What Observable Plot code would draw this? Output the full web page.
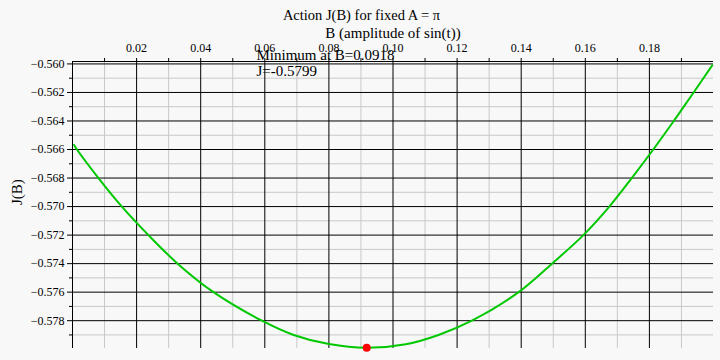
<!DOCTYPE html>
<html>
<head>
<meta charset="utf-8">
<script src="https://cdn.jsdelivr.net/npm/d3@7"></script>
<script src="https://cdn.jsdelivr.net/npm/@observablehq/plot@0.6"></script>
<style>
  html, body { margin: 0; padding: 0; background: #f8f8f8; }
  #chart svg { display: block; }
</style>
</head>
<body>
<div id="chart"></div>
<script>
// Curve samples
const bValues = [0.0005, 0.0014, 0.0081, 0.0154, 0.0237, 0.0328, 0.0440, 0.0591, 0.0690, 0.0800,
                 0.0918, 0.1040, 0.1142, 0.1246, 0.1392, 0.1496, 0.1594, 0.1675, 0.1745, 0.1812,
                 0.1876, 0.1938, 0.1996];
const jValues = [-0.56568, -0.5660, -0.5680, -0.5700, -0.5720, -0.5740, -0.5760, -0.5780, -0.5790, -0.57964,
                 -0.5799, -0.57965, -0.5790, -0.5780, -0.5760, -0.5740, -0.5720, -0.5700, -0.5680, -0.5660,
                 -0.5640, -0.5620, -0.5601];
// Minimum point
const minB = [0.0918];
const minJ = [-0.5799];
// Ticks
const xMajorTicks = [0.02, 0.04, 0.06, 0.08, 0.10, 0.12, 0.14, 0.16, 0.18];
const xMinorTicks = [0.01, 0.03, 0.05, 0.07, 0.09, 0.11, 0.13, 0.15, 0.17, 0.19];
const yMajorTicks = [-0.560, -0.562, -0.564, -0.566, -0.568, -0.570, -0.572, -0.574, -0.576, -0.578];
const yMinorTicks = [-0.561, -0.563, -0.565, -0.567, -0.569, -0.571, -0.573, -0.575, -0.577, -0.579];
// Texts
const titleText = "Action J(B) for fixed A = \u03C0";
const xLabel = "B (amplitude of sin(t))";
const yLabel = "J(B)";
const annotationText = "Minimum at B=0.0918\nJ=-0.5799";
const annotationB = [0.0574];

const xDomain = [0, 0.2];
const yDomain = [-0.57995, -0.55983];

const curve = bValues.map((b, i) => ({B: b, J: jValues[i]}));
const minPt = minB.map((b, i) => ({B: b, J: minJ[i]}));

const serif = "Liberation Serif";
const grid = "#c8c8c8";
const fmtX = d3.format(".2f");
const fmtY = d3.format(".3f");
const plot = Plot.plot({
  width: 720,
  height: 360,
  marginLeft: 72,
  marginRight: 7,
  marginTop: 61,
  marginBottom: 12,
  style: {background: "#f8f8f8", fontFamily: serif, fontSize: "12px", color: "#000"},
  x: {domain: xDomain, axis: null},
  y: {domain: yDomain, axis: null},
  marks: [
    Plot.ruleX(xMinorTicks, {stroke: grid, strokeWidth: 1}),
    Plot.ruleY(yMinorTicks, {stroke: grid, strokeWidth: 1}),
    Plot.ruleX(xMajorTicks, {stroke: "#000", strokeWidth: 1}),
    Plot.ruleY(yMajorTicks, {stroke: "#000", strokeWidth: 1}),
    Plot.ruleY([yDomain[1]], {stroke: "#000"}),
    Plot.ruleX([xDomain[0]], {stroke: "#000"}),
    Plot.axisX(xMajorTicks.concat(xMinorTicks), {anchor: "top", tickSize: 4, tickFormat: () => "", label: null}),
    Plot.axisY(yMajorTicks, {anchor: "left", tickSize: 5, tickFormat: () => "", label: null}),
    Plot.axisY(yMinorTicks, {anchor: "left", tickSize: 3, tickFormat: () => "", label: null}),
    Plot.text(xMajorTicks, {x: d => d, frameAnchor: "top", dy: -10, lineAnchor: "bottom", text: d => fmtX(d), fontSize: 12, fontFamily: serif, fill: "#000"}),
    Plot.text(yMajorTicks, {y: d => d, frameAnchor: "left", dx: -8, lineAnchor: "middle", textAnchor: "end", text: d => fmtY(d), fontSize: 12, fontFamily: serif, fill: "#000"}),
    Plot.line(curve, {x: "B", y: "J", stroke: "#00c800", strokeWidth: 2, curve: "catmull-rom"}),
    Plot.dot(minPt, {x: "B", y: "J", r: 4, fill: "#ff0000", stroke: "none"}),
    Plot.text([annotationText], {x: annotationB, frameAnchor: "top", dy: -13.5, text: d => d, textAnchor: "start", lineAnchor: "top", lineHeight: 1.11, fontSize: 15, fill: "#000"}),
    Plot.text([xLabel], {frameAnchor: "top", dy: -28.5, lineAnchor: "middle", text: d => d, fontSize: 15, fill: "#000"}),
    Plot.text([titleText], {frameAnchor: "top-left", dx: 289, dy: -46.5, lineAnchor: "middle", text: d => d, textAnchor: "middle", fontSize: 14.5, fill: "#000"}),
    Plot.text([yLabel], {frameAnchor: "left", dx: -55, rotate: -90, text: d => d, fontSize: 15, fill: "#000"})
  ]
});
document.getElementById("chart").appendChild(plot);
</script>
</body>
</html>
